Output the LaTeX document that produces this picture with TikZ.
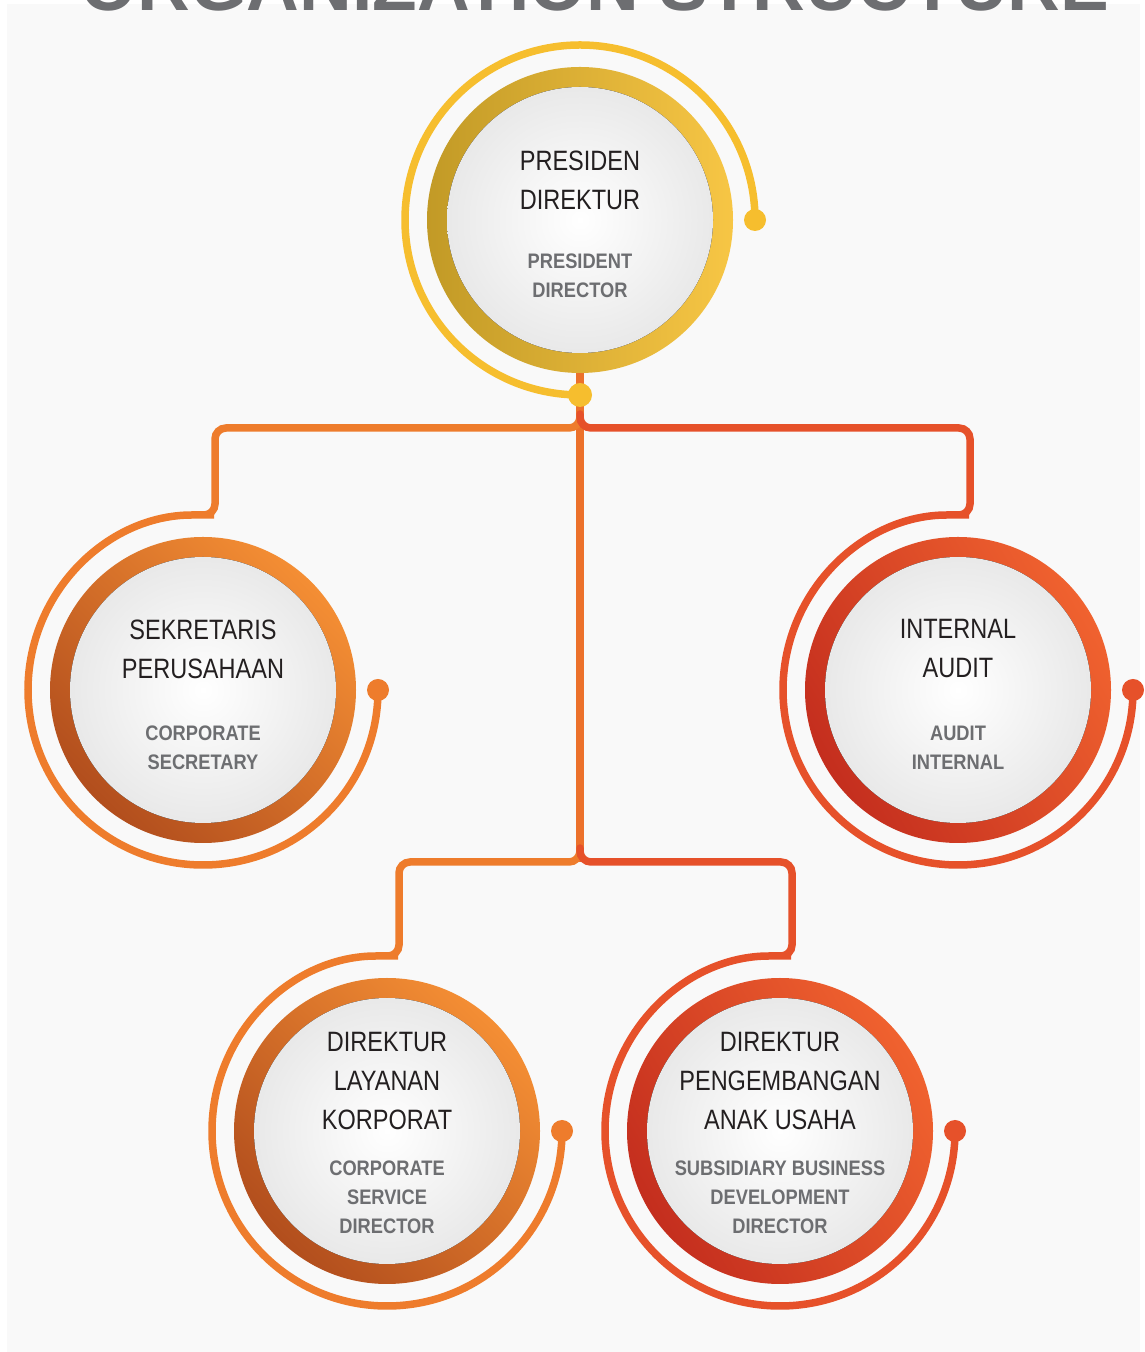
\documentclass[tikz,border=0pt]{standalone}
\usepackage{fontspec}
\setmainfont{Liberation Sans}
\newfontfamily\namefont[FakeStretch=0.84]{Liberation Sans}
\newfontfamily\engfont[FakeStretch=0.87]{Liberation Sans}
\usetikzlibrary{calc}
\usetikzlibrary{math}
\definecolor{bgcol}{HTML}{F9F9F9}
\definecolor{titlecol}{HTML}{6D6E71}
\definecolor{namecol}{HTML}{231F20}
\definecolor{engcol}{HTML}{6D6E71}
\definecolor{golddark}{HTML}{C29A26}
\definecolor{goldlight}{HTML}{F7C645}
\definecolor{goldline}{HTML}{F6BE2E}
\definecolor{orangedark}{HTML}{B24E1D}
\definecolor{orangelight}{HTML}{F48E34}
\definecolor{orangeline}{HTML}{EE7C2C}
\definecolor{reddark}{HTML}{C42E1E}
\definecolor{redlight}{HTML}{F0622F}
\definecolor{redline}{HTML}{E6512A}
\definecolor{trunkcol}{HTML}{EC712B}
\tikzset{ring/.style n args={3}{circle, inner sep=0pt, minimum size=306pt, bottom color=#1, top color=#2, shading angle=#3,
    path picture={\fill[disc] (path picture bounding box.center) circle (133pt);}},
  disc/.style={inner color=white, outer color=black!10},
  wire/.style={line width=7.5pt, line cap=round, rounded corners=11pt},
  spiral/.style={line width=7.5pt, line cap=round},
  idtext/.style={font=\namefont\fontsize{28}{39}\selectfont, text=namecol, align=center},
  entext/.style={font=\engfont\bfseries\fontsize{21}{29}\selectfont, text=engcol, align=center}}

\begin{document}
\begin{tikzpicture}[x=1pt,y=1pt]
	\tikzmath{\pdx=580; \pdy=1132; \csx=203; \csy=662; \iax=958; \iay=662;
	\cdx=387; \cdy=221; \sdx=780; \sdy=221;
	\barA=924; \barB=490; \arcR=175; \dotR=11; \jog=12;}
	\useasboundingbox (0,0) rectangle (1145,1352);
	\fill[bgcol] (7,0) rectangle (1140,1348);
	\node[anchor=base, font=\bfseries\fontsize{73}{80}\selectfont, text=titlecol] (title) at (595,1341) {ORGANIZATION STRUCTURE};

	\node[ring={golddark}{goldlight}{-90}] (pd) at (\pdx,\pdy) {};
	\node[ring={orangedark}{orangelight}{-45}] (cs) at (\csx,\csy) {};
	\node[ring={reddark}{redlight}{-60}] (ia) at (\iax,\iay) {};
	\node[ring={orangedark}{orangelight}{-45}] (cd) at (\cdx,\cdy) {};
	\node[ring={reddark}{redlight}{-60}] (sd) at (\sdx,\sdy) {};

	\coordinate (j1) at (\pdx,\barA);
	\coordinate (j2) at (\pdx,\barB);
	\draw[wire, trunkcol, line cap=butt] (pd.south) -- (j2);
	\draw[wire, orangeline] ([yshift=14pt]j1) -- (j1) -| ($(cs)+(\jog,\arcR)$) -- ($(cs)+(0,\arcR)$) arc[start angle=90, end angle=360, radius=\arcR pt];
	\draw[wire, redline] ([yshift=14pt]j1) -- (j1) -| ($(ia)+(\jog,\arcR)$) -- ($(ia)+(0,\arcR)$) arc[start angle=90, end angle=360, radius=\arcR pt];
	\draw[wire, orangeline] ([yshift=14pt]j2) -- (j2) -| ($(cd)+(\jog,\arcR)$) -- ($(cd)+(0,\arcR)$) arc[start angle=90, end angle=360, radius=\arcR pt];
	\draw[wire, redline] ([yshift=14pt]j2) -- (j2) -| ($(sd)+(\jog,\arcR)$) -- ($(sd)+(0,\arcR)$) arc[start angle=90, end angle=360, radius=\arcR pt];
	\draw[spiral, goldline] ($(pd)+(0,-\arcR)$) arc[start angle=-90, end angle=-360, radius=\arcR pt];

	\fill[goldline] ($(pd)+(0,-\arcR)$) circle (12pt);
	\fill[goldline] ($(pd)+(\arcR,0)$) circle (\dotR pt);
	\fill[orangeline] ($(cs)+(\arcR,0)$) circle (\dotR pt);
	\fill[redline] ($(ia)+(\arcR,0)$) circle (\dotR pt);
	\fill[orangeline] ($(cd)+(\arcR,0)$) circle (\dotR pt);
	\fill[redline] ($(sd)+(\arcR,0)$) circle (\dotR pt);

	\node[idtext] (pd id) at ($(pd)+(0,40)$) {PRESIDEN\\DIREKTUR};
	\node[entext] (pd en) at ($(pd)+(0,-56)$) {PRESIDENT\\DIRECTOR};
	\node[idtext] (cs id) at ($(cs)+(0,41)$) {SEKRETARIS\\PERUSAHAAN};
	\node[entext] (cs en) at ($(cs)+(0,-58)$) {CORPORATE\\SECRETARY};
	\node[idtext] (ia id) at ($(ia)+(0,41)$) {INTERNAL\\AUDIT};
	\node[entext] (ia en) at ($(ia)+(0,-58)$) {AUDIT\\INTERNAL};
	\node[idtext] (cd id) at ($(cd)+(0,50)$) {DIREKTUR\\LAYANAN\\KORPORAT};
	\node[entext] (cd en) at ($(cd)+(0,-66)$) {CORPORATE\\SERVICE\\DIRECTOR};
	\node[idtext] (sd id) at ($(sd)+(0,50)$) {DIREKTUR\\PENGEMBANGAN\\ANAK USAHA};
	\node[entext] (sd en) at ($(sd)+(0,-66)$) {SUBSIDIARY BUSINESS\\DEVELOPMENT\\DIRECTOR};
\end{tikzpicture}
\end{document}
